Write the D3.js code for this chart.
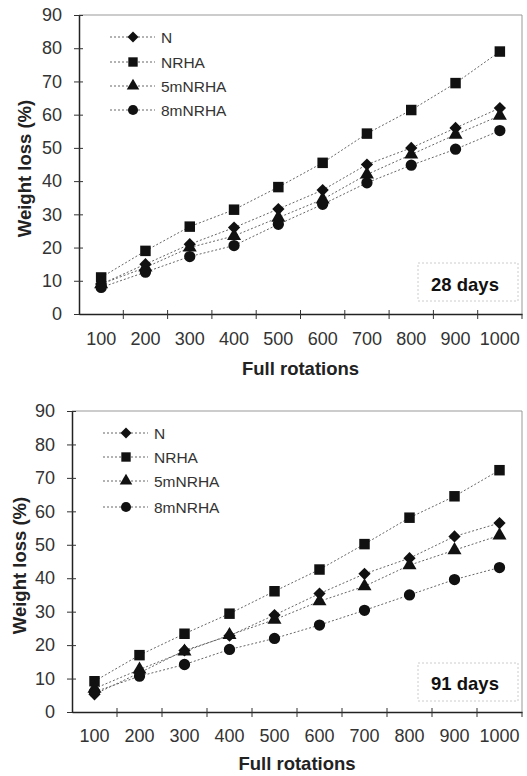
<!DOCTYPE html>
<html>
<head>
<meta charset="utf-8">
<script src="https://cdnjs.cloudflare.com/ajax/libs/d3/7.8.5/d3.min.js"></script>
<style>
  body { margin: 0; background: #fff; }
  svg { display: block; font-family: "Liberation Sans", Arial, sans-serif; }
</style>
</head>
<body>
<svg id="chart" width="527" height="776"></svg>
<script>
var rotations = ["100","200","300","400","500","600","700","800","900","1000"];
var yTicks = [0,10,20,30,40,50,60,70,80,90];
var seriesNames = ["N","NRHA","5mNRHA","8mNRHA"];

// 28 days
var n28      = [9, 15, 21, 26, 31.6, 37.3, 45, 50, 56, 62];
var nrha28   = [11, 19, 26.3, 31.4, 38.2, 45.5, 54.3, 61.4, 69.5, 79];
var m5nrha28 = [9, 14, 20, 23.5, 29, 34.5, 42, 48, 54, 59.7];
var m8nrha28 = [8, 12.6, 17.3, 20.6, 27, 33, 39.5, 44.8, 49.6, 55.2];

// 91 days
var n91      = [5.3, 11.7, 18.4, 22.8, 29, 35.4, 41.3, 46, 52.5, 56.5];
var nrha91   = [9.2, 17, 23.4, 29.4, 36.1, 42.6, 50.2, 58.1, 64.5, 72.3];
var m5nrha91 = [7, 12.7, 18.1, 23, 27.6, 33.1, 37.6, 43.9, 48.4, 52.8];
var m8nrha91 = [6, 10.7, 14.2, 18.7, 22, 26, 30.4, 35, 39.6, 43.2];

// N diamond = square turned 45 degrees
var symbols = [d3.symbolSquare, d3.symbolSquare, d3.symbolTriangle, d3.symbolCircle];
var symRot = [45, 0, 0, 0];
var symSizes = [75, 110, 85, 100];

var svg = d3.select("#chart");

function drawPanel(p) {
  var x = d3.scaleBand().domain(rotations).range([p.left, p.right]);
  var y = d3.scaleLinear().domain([0, 90]).range([p.bottom, p.top]);
  var g = svg.append("g");

  // frame top / right
  g.append("line").attr("x1", p.left).attr("x2", p.right).attr("y1", p.top).attr("y2", p.top)
    .attr("stroke", "#999").attr("stroke-width", 1);
  g.append("line").attr("x1", p.right).attr("x2", p.right).attr("y1", p.top).attr("y2", p.bottom)
    .attr("stroke", "#999").attr("stroke-width", 1);

  // y axis
  var yAxis = d3.axisLeft(y).tickValues(yTicks).tickSizeInner(5).tickSizeOuter(0).tickPadding(12);
  var ya = g.append("g").attr("transform", "translate(" + p.left + ",0)").call(yAxis);
  ya.select(".domain").attr("stroke", "#222").attr("stroke-width", 1.5);
  ya.selectAll(".tick line").attr("x2", 4).attr("x1", -5).attr("stroke", "#333");
  ya.selectAll(".tick text").attr("font-size", 18).attr("fill", "#333");

  // x axis (ticks at band boundaries)
  var xAxis = d3.axisBottom(x).tickSize(0).tickPadding(p.xPad);
  var xa = g.append("g").attr("transform", "translate(0," + p.bottom + ")").call(xAxis);
  xa.select(".domain").attr("stroke", "#222").attr("stroke-width", 1.5);
  xa.selectAll(".tick text").attr("font-size", 18).attr("fill", "#333");
  g.selectAll(".xb").data(rotations.slice(1)).enter().append("line")
    .attr("x1", function(d) { return x(d); }).attr("x2", function(d) { return x(d); })
    .attr("y1", p.bottom - 4).attr("y2", p.bottom + 5)
    .attr("stroke", "#333");
  g.append("line").attr("x1", p.right).attr("x2", p.right).attr("y1", p.bottom).attr("y2", p.bottom + 5)
    .attr("stroke", "#333");

  // axis titles
  g.append("text").attr("x", (p.left + p.right) / 2).attr("y", p.bottom + p.xTitle)
    .attr("text-anchor", "middle").attr("font-size", 18.5).attr("font-weight", "bold")
    .attr("fill", "#222").text("Full rotations");
  g.append("text")
    .attr("transform", "translate(" + p.ytitleX + "," + ((p.top + p.bottom) / 2 + 4) + ") rotate(-90)")
    .attr("text-anchor", "middle").attr("font-size", 18.5).attr("font-weight", "bold")
    .attr("fill", "#222").text("Weight loss (%)");

  // series
  var line = d3.line()
    .x(function(d, i) { return x(rotations[i]) + x.bandwidth() / 2; })
    .y(function(d) { return y(d); });

  p.series.forEach(function(vals, s) {
    g.append("path").attr("d", line(vals)).attr("fill", "none")
      .attr("stroke", "#666").attr("stroke-width", 1).attr("stroke-dasharray", "2,2");
  });
  p.series.forEach(function(vals, s) {
    g.selectAll(".m" + s).data(vals).enter().append("path")
      .attr("d", d3.symbol().type(symbols[s]).size(symSizes[s]))
      .attr("transform", function(d, i) {
        return "translate(" + (x(rotations[i]) + x.bandwidth() / 2) + "," + y(d) + ") rotate(" + symRot[s] + ")";
      })
      .attr("fill", "#111");
  });

  // legend
  seriesNames.forEach(function(name, s) {
    var ly = p.legY[s];
    g.append("line").attr("x1", p.legX).attr("x2", p.legX + 45).attr("y1", ly).attr("y2", ly)
      .attr("stroke", "#666").attr("stroke-dasharray", "2,2");
    g.append("path").attr("d", d3.symbol().type(symbols[s]).size(symSizes[s] * 0.8))
      .attr("transform", "translate(" + (p.legX + 23) + "," + ly + ") rotate(" + symRot[s] + ")")
      .attr("fill", "#111");
    g.append("text").attr("x", p.legX + 51).attr("y", ly + 5.5).attr("font-size", 15.5)
      .attr("fill", "#333").text(name);
  });

  // days box
  g.append("rect").attr("x", 418).attr("y", p.boxY).attr("width", 100).attr("height", 38)
    .attr("fill", "#fff").attr("stroke", "#ccc").attr("stroke-dasharray", "2,2");
  g.append("text").attr("x", 465).attr("y", p.boxY + p.boxBase).attr("text-anchor", "middle")
    .attr("font-size", 18.5).attr("font-weight", "bold").attr("fill", "#111").text(p.label);
}

drawPanel({
  left: 79, right: 522, top: 15, bottom: 314, ytitleX: 31, xPad: 18, xTitle: 61,
  series: [n28, nrha28, m5nrha28, m8nrha28],
  legX: 110, legY: [37, 62, 86, 110],
  boxY: 263, boxBase: 28, label: "28 days"
});

drawPanel({
  left: 72, right: 522, top: 411, bottom: 712, ytitleX: 26, xPad: 17, xTitle: 58,
  series: [n91, nrha91, m5nrha91, m8nrha91],
  legX: 103, legY: [433, 457, 481, 507],
  boxY: 663, boxBase: 27, label: "91 days"
});
</script>
</body>
</html>
